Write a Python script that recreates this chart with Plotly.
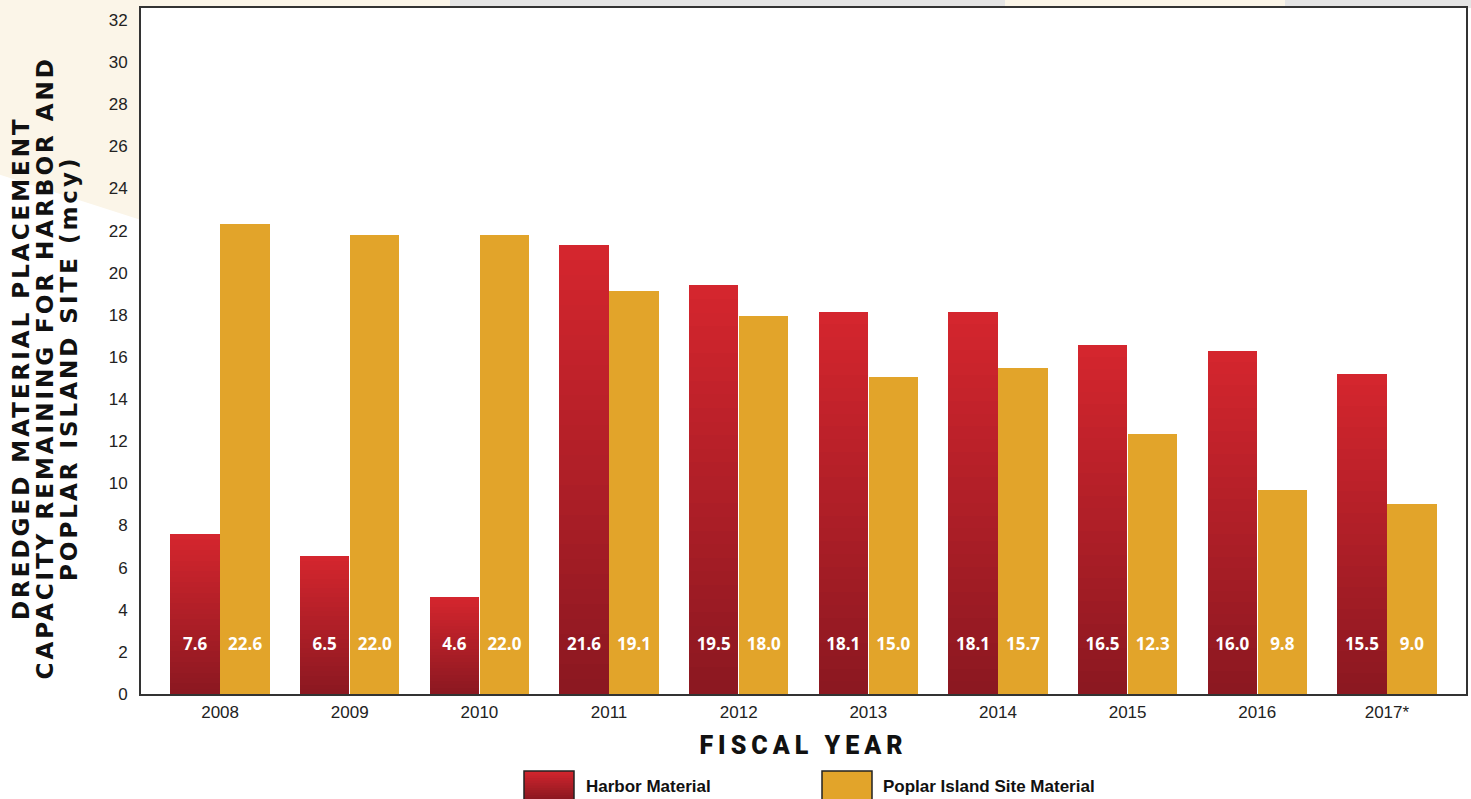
import plotly.graph_objects as go

# ---------------- data ----------------
years = ["2008", "2009", "2010", "2011", "2012", "2013", "2014", "2015", "2016", "2017*"]
harbor_values = [7.6, 6.55, 4.6, 21.3, 19.4, 18.15, 18.15, 16.55, 16.3, 15.2]
poplar_values = [22.3, 21.8, 21.8, 19.15, 17.95, 15.05, 15.5, 12.35, 9.7, 9.0]
harbor_labels = ["7.6", "6.5", "4.6", "21.6", "19.5", "18.1", "18.1", "16.5", "16.0", "15.5"]
poplar_labels = ["22.6", "22.0", "22.0", "19.1", "18.0", "15.0", "15.7", "12.3", "9.8", "9.0"]
y_ticks = list(range(0, 33, 2))
y_title_lines = ["DREDGED MATERIAL PLACEMENT", "CAPACITY REMAINING FOR HARBOR AND", "POPLAR ISLAND SITE (mcy)"]

# ---------------- style ----------------
BAR_W = 0.38
OFFSET = 0.193
LABEL_Y = 2.3
N_SLICES = 30
RED_TOP = (214, 38, 46)
RED_BOT = (140, 24, 33)
GOLD = "#e2a42a"
BEIGE = "#fbf5e8"
GREY = "#e5e5e5"


def mix(c1, c2, t):
    return "rgb(%d,%d,%d)" % tuple(round(a + (b - a) * t) for a, b in zip(c1, c2))


idx = list(range(len(years)))
xh = [i - OFFSET for i in idx]
xp = [i + OFFSET for i in idx]

fig = go.Figure()

# harbor bars with vertical gradient (stacked overlapping slices, drawn bottom-up)
for k in range(N_SLICES):
    f = k / N_SLICES
    fig.add_trace(go.Bar(
        x=xh,
        base=[v * f for v in harbor_values],
        y=[v * (1 - f) for v in harbor_values],
        width=BAR_W,
        marker=dict(color=mix(RED_BOT, RED_TOP, f), line=dict(width=0)),
        showlegend=False, hoverinfo="skip",
    ))

fig.add_trace(go.Bar(
    x=xp, y=poplar_values, width=BAR_W,
    marker=dict(color=GOLD, line=dict(width=0)),
    showlegend=False, name="Poplar Island Site Material",
))

label_font = dict(family="Open Sans, DejaVu Sans, sans-serif", size=17, color="white", weight="bold")
fig.add_trace(go.Scatter(x=xh, y=[LABEL_Y] * len(xh), mode="text", text=harbor_labels,
                         textfont=label_font, showlegend=False, hoverinfo="skip"))
fig.add_trace(go.Scatter(x=xp, y=[LABEL_Y] * len(xp), mode="text", text=poplar_labels,
                         textfont=label_font, showlegend=False, hoverinfo="skip"))

shapes = []
# decorative background
L = -141 / 1325
shapes.append(dict(type="path", xref="paper", yref="paper", layer="below",
                   path=f"M {L},1.02 L 0,1.02 L 0,0.691 L {L},0.757 Z",
                   fillcolor=BEIGE, line=dict(width=0)))
for x0, x1, c in [(0, 175, BEIGE), (175, 450, BEIGE), (450, 730, GREY), (730, 1005, GREY),
                  (1005, 1285, BEIGE), (1285, 1471, GREY)]:
    shapes.append(dict(type="rect", xref="paper", yref="paper", layer="below",
                       x0=(x0 - 141) / 1325, x1=(x1 - 141) / 1325, y0=1.0, y1=1.02,
                       fillcolor=c, line=dict(width=0)))


def px_x(p):
    return (p - 141) / 1325


def px_y(p):
    return (694 - p) / 686


# legend boxes
hx0, hx1 = px_x(524), px_x(574)
ly0, ly1 = px_y(800), px_y(771)
n_leg = 12
for k in range(n_leg):
    f = k / n_leg
    shapes.append(dict(type="rect", xref="paper", yref="paper",
                       x0=hx0, x1=hx1, y0=ly0 + (ly1 - ly0) * f, y1=ly1,
                       fillcolor=mix(RED_BOT, RED_TOP, f), line=dict(width=0)))
shapes.append(dict(type="rect", xref="paper", yref="paper", x0=hx0, x1=hx1, y0=ly0, y1=ly1,
                   fillcolor="rgba(0,0,0,0)", line=dict(color="#222", width=1.5)))
shapes.append(dict(type="rect", xref="paper", yref="paper", x0=px_x(822), x1=px_x(872), y0=ly0, y1=ly1,
                   fillcolor=GOLD, line=dict(color="#222", width=1.5)))

leg_font = dict(family="Liberation Sans Narrow, Arial Narrow, Liberation Sans, sans-serif",
                size=17, color="#111", weight="bold")
title_font = dict(family="DejaVu Sans, sans-serif", size=23, color="#111", weight="bold")

annotations = [
    dict(text="Harbor Material", xref="paper", yref="paper", x=px_x(584), y=px_y(787),
         xanchor="left", yanchor="middle", showarrow=False, font=leg_font),
    dict(text="Poplar Island Site Material", xref="paper", yref="paper", x=px_x(881), y=px_y(787),
         xanchor="left", yanchor="middle", showarrow=False, font=leg_font),
]
for line, xc in zip(y_title_lines, [21, 45, 69]):
    annotations.append(dict(text=line, xref="paper", yref="paper", x=px_x(xc), y=px_y(368),
                            xanchor="center", yanchor="middle", textangle=-90,
                            showarrow=False, font=title_font))

tick_font = dict(family="Liberation Sans Narrow, Arial Narrow, Liberation Sans, sans-serif",
                 size=17, color="#222")

fig.update_layout(
    width=1471, height=799,
    margin=dict(l=141, r=5, t=8, b=105),
    paper_bgcolor="white", plot_bgcolor="white",
    barmode="overlay", bargap=0,
    shapes=shapes, annotations=annotations,
    showlegend=False,
    xaxis=dict(range=[-0.61, 9.61], tickvals=idx, ticktext=years, tickfont=tick_font,
               showgrid=False, zeroline=False, showline=True, linecolor="#333", linewidth=2,
               mirror=True, ticks="", ticklabelstandoff=2, automargin=False,
               title=dict(text="FISCAL YEAR", font=dict(family="Roboto, DejaVu Sans, sans-serif",
                                                        size=25, color="#111", weight=900),
                          standoff=15)),
    yaxis=dict(range=[0, 32.57], tickvals=y_ticks, tickfont=tick_font,
               showgrid=False, zeroline=False, showline=True, linecolor="#333", linewidth=2,
               mirror=True, ticks="", ticklabelstandoff=8, automargin=False),
)

post = """
var s=document.createElement('style');
s.innerHTML='html,body{margin:0;padding:0;overflow:hidden;} .xtitle{letter-spacing:5px;} '
 + '.annotation[data-index="2"] text, .annotation[data-index="3"] text, .annotation[data-index="4"] text{letter-spacing:3px;}';
document.head.appendChild(s);
"""
fig.write_html("out.html", post_script=post, config={"displayModeBar": False})
